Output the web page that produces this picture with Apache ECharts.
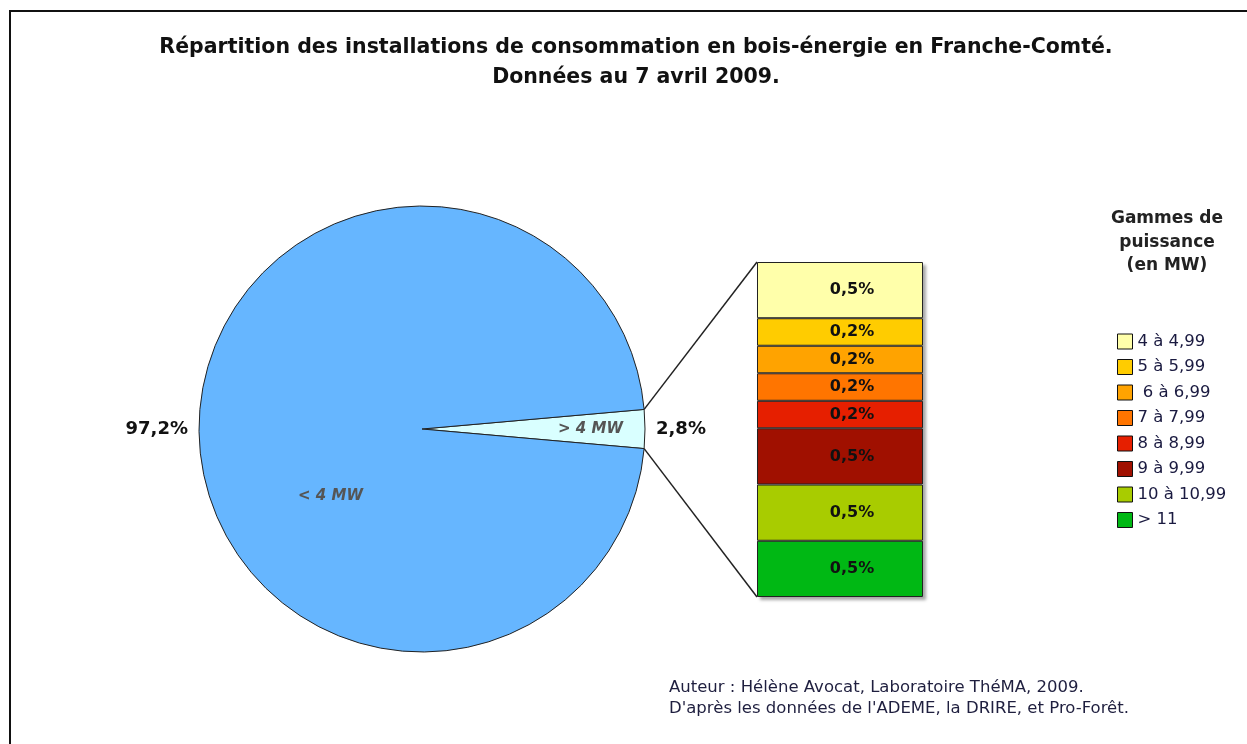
<!DOCTYPE html>
<html>
<head>
<meta charset="utf-8">
<script src="https://cdn.jsdelivr.net/npm/echarts@6/dist/echarts.min.js"></script>
<style>
  html, body { margin: 0; padding: 0; background: #ffffff; }
  #chart { width: 1247px; height: 744px; }
</style>
</head>
<body>
<div id="chart"></div>
<script>
// parts de la puissance installée (%)
var pieNames = ['> 4 MW', '< 4 MW']
var pieValues = [2.8, 97.2]

// gammes de puissance, de haut en bas dans la colonne
var rangeNames = ['4 à 4,99', '5 à 5,99', ' 6 à 6,99', '7 à 7,99', '8 à 8,99', '9 à 9,99', '10 à 10,99', '> 11']
var rangeValues = [0.47, 0.23, 0.23, 0.23, 0.23, 0.47, 0.47, 0.47]
var rangeColors = ['#ffffaa', '#ffcc00', '#ffa300', '#ff7500', '#e61f00', '#a01000', '#a8cc00', '#00b814']

var font = '"DejaVu Sans", Verdana, sans-serif'
var pieCenter = [422, 429]
var pieRadius = 223
var col = { left: 757, top: 262, width: 166, height: 335 }

function fr (v) {
  return v.toFixed(1).replace('.', ',') + '%'
}

var total = rangeValues.reduce(function (a, b) { return a + b }, 0)
var half = pieValues[0] / 100 * 360 / 2

var pieData = pieNames.map(function (n, i) {
  return { name: n, value: pieValues[i], itemStyle: { color: i === 0 ? '#d9ffff' : '#66b6ff' } }
})

// la colonne s'empile du bas vers le haut : on inverse l'ordre
var barSeries = []
for (var i = rangeNames.length - 1; i >= 0; i--) {
  barSeries.push({
    name: rangeNames[i],
    type: 'bar',
    stack: 'gammes',
    barWidth: '100%',
    data: [rangeValues[i]],
    itemStyle: { color: rangeColors[i], borderColor: '#222', borderWidth: 1 },
    label: {
      show: true,
      position: 'inside',
      offset: [12, 0],
      formatter: function (p) { return fr(p.value) },
      color: '#111',
      fontWeight: 'bold',
      fontSize: 16,
      fontFamily: font
    }
  })
}

var option = {
  animation: false,
  backgroundColor: '#ffffff',
  title: [
    {
      text: 'Répartition des installations de consommation en bois-énergie en Franche-Comté.\nDonnées au 7 avril 2009.',
      left: 636,
      top: 33,
      padding: 0,
      textAlign: 'center',
      textStyle: { fontFamily: font, fontSize: 20.5, fontWeight: 'bold', color: '#111', lineHeight: 30 }
    },
    {
      text: 'Gammes de\npuissance\n(en MW)',
      left: 1167,
      top: 207,
      padding: 0,
      textAlign: 'center',
      textStyle: { fontFamily: font, fontSize: 17, fontWeight: 'bold', color: '#222', lineHeight: 23.5 }
    },
    {
      text: 'Auteur : Hélène Avocat, Laboratoire ThéMA, 2009.\nD\'après les données de l\'ADEME, la DRIRE, et Pro-Forêt.',
      left: 669,
      top: 677,
      padding: 0,
      textStyle: { fontFamily: font, fontSize: 16.5, fontWeight: 'normal', color: '#1f1f3f', lineHeight: 21 }
    }
  ],
  legend: {
    orient: 'vertical',
    left: 1117,
    top: 333,
    padding: 0,
    itemWidth: 15,
    itemHeight: 15,
    itemGap: 8.5,
    icon: 'rect',
    data: rangeNames,
    itemStyle: { borderColor: '#111', borderWidth: 1 },
    textStyle: { fontFamily: font, fontSize: 16.5, lineHeight: 16.5, color: '#1a1a40' }
  },
  grid: {
    left: col.left,
    top: col.top,
    width: col.width,
    height: col.height,
    show: true,
    backgroundColor: '#ffffff',
    borderWidth: 0,
    shadowColor: 'rgba(0,0,0,0.35)',
    shadowBlur: 3,
    shadowOffsetX: 3,
    shadowOffsetY: 3
  },
  xAxis: { type: 'category', data: ['> 4 MW'], show: false },
  yAxis: { type: 'value', min: 0, max: total, show: false },
  series: [
    {
      type: 'pie',
      center: pieCenter,
      radius: pieRadius,
      startAngle: half,
      clockwise: true,
      silent: true,
      data: pieData,
      itemStyle: { borderColor: '#222', borderWidth: 1 },
      label: {
        show: true,
        position: 'inside',
        formatter: '{b}',
        color: '#555',
        fontStyle: 'italic',
        fontWeight: 'bold',
        fontSize: 15,
        fontFamily: font
      },
      labelLayout: function (p) {
        return p.dataIndex === 0 ? { dx: 54 } : { dx: 23, dy: 67 }
      }
    },
    {
      type: 'pie',
      center: pieCenter,
      radius: pieRadius,
      startAngle: half,
      clockwise: true,
      silent: true,
      avoidLabelOverlap: false,
      data: pieData.map(function (d) { return { name: d.name, value: d.value } }),
      itemStyle: { color: 'rgba(0,0,0,0)', borderWidth: 0 },
      label: {
        show: true,
        position: 'outside',
        formatter: function (p) { return fr(p.value) },
        color: '#111',
        fontWeight: 'bold',
        fontSize: 18,
        fontFamily: font,
        distanceToLabelLine: 5
      },
      labelLine: { show: false, length: 6, length2: 0 }
    }
  ].concat(barSeries)
}

var myChart = echarts.init(document.getElementById('chart'))
myChart.setOption(option)

// lignes reliant la part > 4 MW à la colonne de détail, et cadre
var a = half * Math.PI / 180
var ex = pieCenter[0] + pieRadius * Math.cos(a)
var ey = pieRadius * Math.sin(a)
var yTop = myChart.convertToPixel({ yAxisIndex: 0 }, total)
var yBot = myChart.convertToPixel({ yAxisIndex: 0 }, 0)
var zr = myChart.getZr()

zr.add(new echarts.graphic.Rect({
  shape: { x: 10, y: 11, width: 1400, height: 900 },
  style: { fill: null, stroke: '#111', lineWidth: 2 },
  silent: true
}))
zr.add(new echarts.graphic.Line({
  shape: { x1: ex, y1: pieCenter[1] - ey, x2: col.left, y2: yTop },
  style: { stroke: '#222', lineWidth: 1.5 },
  silent: true
}))
zr.add(new echarts.graphic.Line({
  shape: { x1: ex, y1: pieCenter[1] + ey, x2: col.left, y2: yBot },
  style: { stroke: '#222', lineWidth: 1.5 },
  silent: true
}))
</script>
</body>
</html>
